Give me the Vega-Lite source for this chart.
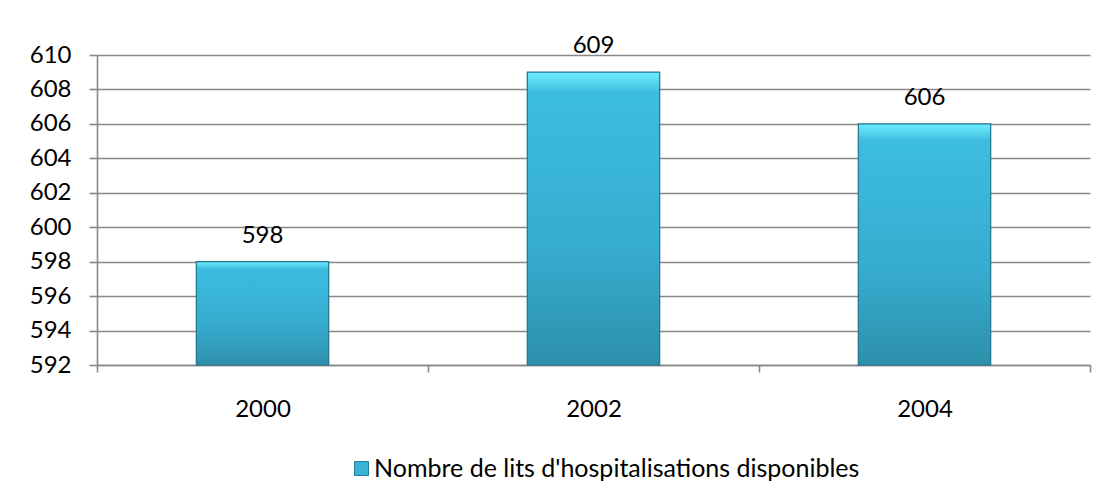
{
  "$schema": "https://vega.github.io/schema/vega-lite/v6.json",
  "autosize": {"type": "none"},
  "padding": {"left": 97, "top": 55, "right": 6, "bottom": 129},
  "width": 993,
  "height": 310,
  "background": "white",
  "config": {
    "view": {"stroke": null},
    "font": "Lato",
    "axis": {
      "labelFont": "Lato",
      "labelFontSize": 24,
      "labelColor": "#000000",
      "domainColor": "#888888",
      "domainWidth": 1.6,
      "tickColor": "#888888",
      "tickWidth": 1.6,
      "gridColor": "#888888",
      "gridWidth": 1.6,
      "title": null
    }
  },
  "data": {
    "values": [
      {"annee": "2000", "lits": 598, "serie": "Nombre de lits d'hospitalisations disponibles"},
      {"annee": "2002", "lits": 609, "serie": "Nombre de lits d'hospitalisations disponibles"},
      {"annee": "2004", "lits": 606, "serie": "Nombre de lits d'hospitalisations disponibles"}
    ]
  },
  "encoding": {
    "x": {
      "field": "annee",
      "type": "nominal",
      "scale": {"paddingInner": 0, "paddingOuter": 0},
      "axis": {"labelAngle": 0, "tickBand": "extent", "tickSize": 7, "labelPadding": 25, "grid": false}
    },
    "y": {
      "field": "lits",
      "type": "quantitative",
      "scale": {"domain": [592, 610], "zero": false, "nice": false},
      "axis": {"values": [592, 594, 596, 598, 600, 602, 604, 606, 608, 610], "grid": true, "tickSize": 8, "labelPadding": 18}
    },
    "y2": {"datum": 592}
  },
  "layer": [
    {
      "mark": {"type": "bar", "width": {"band": 0.4}},
      "encoding": {
        "color": {
          "field": "serie",
          "type": "nominal",
          "scale": {"range": ["#38b2d5"]},
          "legend": {
            "title": null,
            "orient": "none",
            "legendX": 252,
            "legendY": 401,
            "symbolType": "square",
            "symbolSize": 196,
            "symbolStrokeColor": "#257d96",
            "symbolStrokeWidth": 1,
            "labelFont": "Lato",
            "labelFontSize": 25,
            "labelColor": "#000000",
            "labelOffset": 0,
            "labelLimit": 700
          }
        }
      }
    },
    {
      "mark": {
        "type": "bar",
        "width": {"band": 0.4},
        "stroke": "#23758c",
        "strokeWidth": 1.2,
        "fill": {
          "gradient": "linear",
          "x1": 0, "y1": 0, "x2": 0, "y2": 1,
          "stops": [
            {"offset": 0, "color": "#6aeeff"},
            {"offset": 0.03, "color": "#5cd8f0"},
            {"offset": 0.07, "color": "#3cbde0"},
            {"offset": 0.6, "color": "#36acd0"},
            {"offset": 1, "color": "#2d90aa"}
          ]
        }
      }
    },
    {
      "mark": {"type": "text", "baseline": "middle", "dy": -26, "fontSize": 24, "font": "Lato", "color": "#000000"},
      "encoding": {
        "y2": null,
        "text": {"field": "lits", "type": "quantitative"}
      }
    }
  ]
}
